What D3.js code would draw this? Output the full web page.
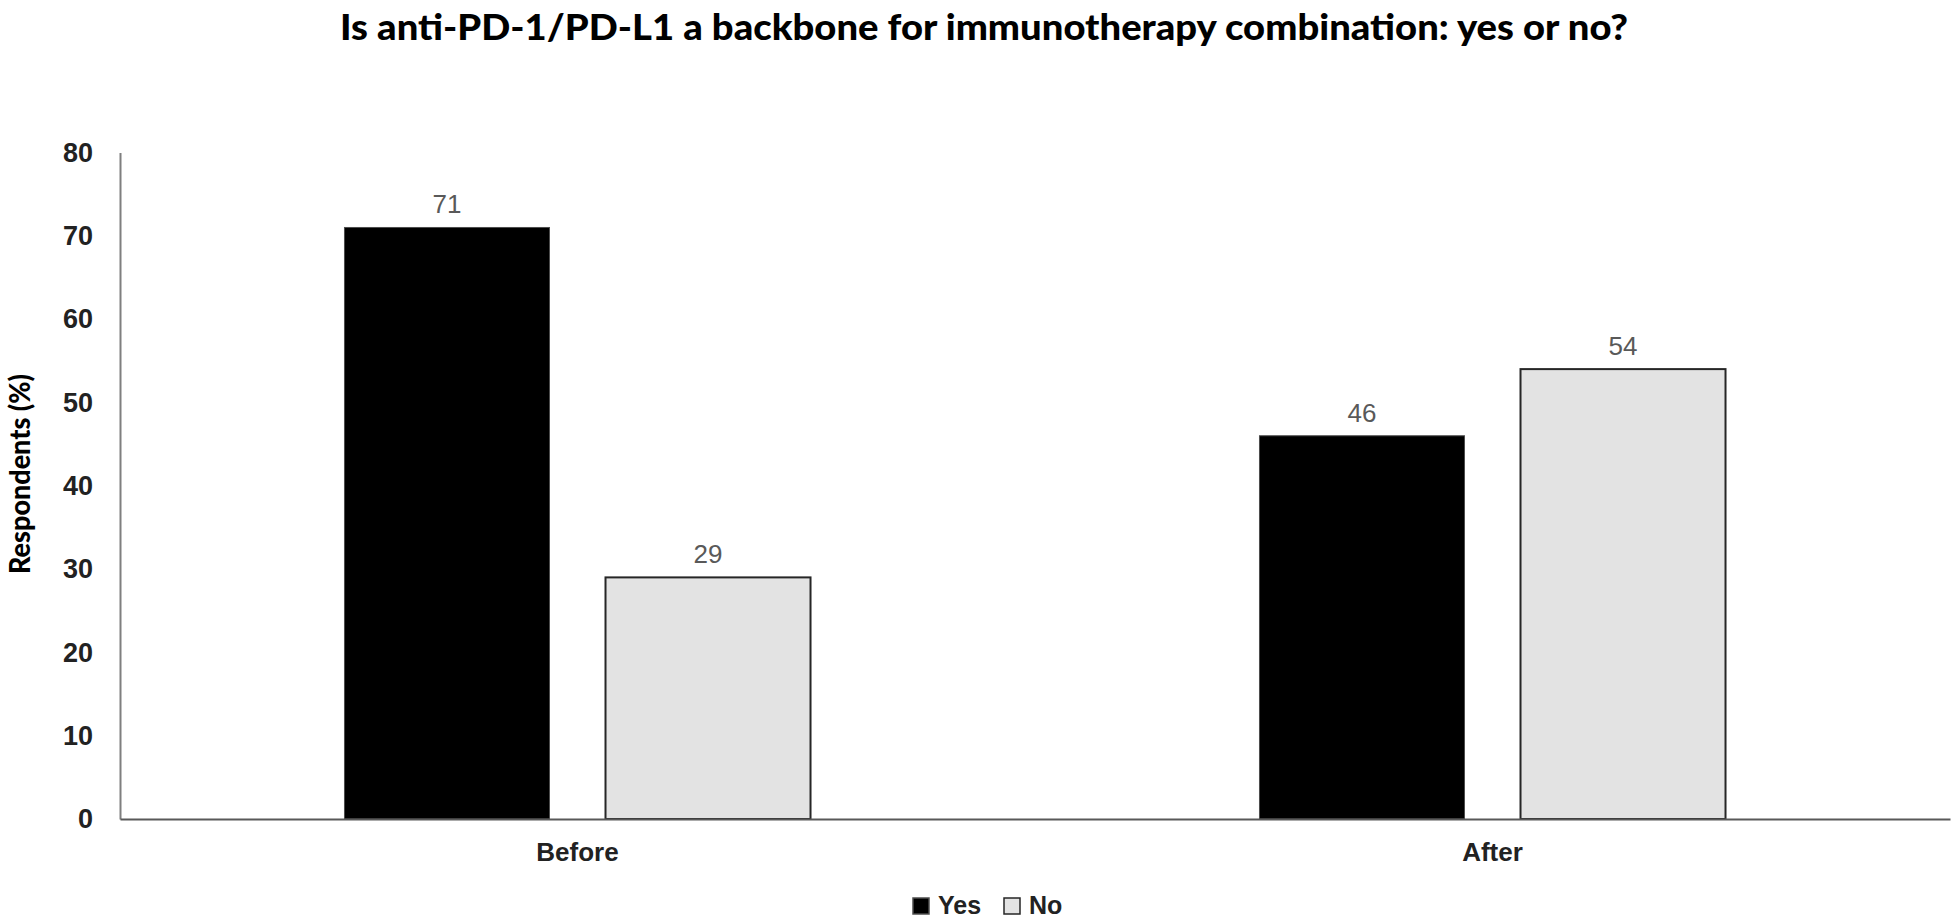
<!DOCTYPE html>
<html>
<head>
<meta charset="utf-8">
<script src="https://cdn.jsdelivr.net/npm/d3@7"></script>
<style>
  body { margin: 0; background: #fff; }
</style>
</head>
<body>
<svg id="chart" width="1960" height="923"></svg>
<script>
// data
var categories = ["Before", "After"];
var seriesNames = ["Yes", "No"];
var yesValues = [71, 46];
var noValues = [29, 54];
var yTicks = [0, 10, 20, 30, 40, 50, 60, 70, 80];
var titleText = "Is anti-PD-1/PD-L1 a backbone for immunotherapy combination: yes or no?";
var yLabel = "Respondents (%)";

var fills = { Yes: "#000000", No: "#e3e3e3" };
var strokes = { Yes: "#4d4d4d", No: "#262626" };

var rows = categories.map(function(c, i) {
  return { cat: c, Yes: yesValues[i], No: noValues[i] };
});

var svg = d3.select("#chart");
var plotLeft = 120, plotRight = 1950, plotTop = 152.5, plotBottom = 819;

var x0 = d3.scaleBand().domain(categories).range([plotLeft, plotRight]).padding(0);
var x1 = d3.scaleBand().domain(seriesNames).range([0, x0.bandwidth()])
    .paddingInner(0.2146).paddingOuter(0.86);
var y = d3.scaleLinear().domain([0, 80]).range([plotBottom, plotTop]);

// title
svg.append("text")
    .attr("x", 984).attr("y", 40)
    .attr("text-anchor", "middle")
    .attr("textLength", 1288).attr("lengthAdjust", "spacingAndGlyphs")
    .style("font-family", "Lato, 'Open Sans', sans-serif")
    .style("font-weight", "900")
    .style("font-size", "36px")
    .style("fill", "#000")
    .text(titleText);

// bars
var groups = svg.selectAll("g.grp")
    .data(rows)
    .enter().append("g")
    .attr("class", "grp")
    .attr("transform", function(d) { return "translate(" + x0(d.cat) + ",0)"; });

groups.selectAll("rect")
    .data(function(d) { return seriesNames.map(function(s) { return { s: s, v: d[s] }; }); })
    .enter().append("rect")
    .attr("x", function(d) { return x1(d.s); })
    .attr("y", function(d) { return y(d.v); })
    .attr("width", x1.bandwidth())
    .attr("height", function(d) { return y(0) - y(d.v); })
    .style("fill", function(d) { return fills[d.s]; })
    .style("stroke", function(d) { return strokes[d.s]; })
    .style("stroke-width", function(d) { return d.s == "No" ? 2 : 1; });

groups.selectAll("text.val")
    .data(function(d) { return seriesNames.map(function(s) { return { s: s, v: d[s] }; }); })
    .enter().append("text")
    .attr("class", "val")
    .attr("x", function(d) { return x1(d.s) + x1.bandwidth() / 2; })
    .attr("y", function(d) { return y(d.v) - 14; })
    .attr("text-anchor", "middle")
    .style("font-family", "'Liberation Sans', Arial, sans-serif")
    .style("font-size", "26px")
    .style("fill", "#595959")
    .text(function(d) { return d.v; });

// y axis
var yAxis = svg.append("g")
    .attr("transform", "translate(" + plotLeft + ",0)")
    .call(d3.axisLeft(y).tickValues(yTicks).tickSize(0).tickSizeOuter(0).tickPadding(27));
yAxis.select(".domain").style("stroke", "#7f7f7f").style("stroke-width", 2);
yAxis.selectAll("text")
    .style("font-family", "'Liberation Sans', Arial, sans-serif")
    .style("font-weight", "bold")
    .style("font-size", "27px")
    .style("fill", "#222");

// x axis
var xAxis = svg.append("g")
    .attr("transform", "translate(0," + plotBottom + ")")
    .call(d3.axisBottom(x0).tickSize(0).tickSizeOuter(0).tickPadding(24));
xAxis.select(".domain").style("stroke", "#595959").style("stroke-width", 2);
xAxis.selectAll("text")
    .style("font-family", "'Liberation Sans', Arial, sans-serif")
    .style("font-weight", "bold")
    .style("font-size", "26px")
    .style("fill", "#222");

// y label
svg.append("text")
    .attr("transform", "translate(30,474) rotate(-90)")
    .attr("text-anchor", "middle")
    .attr("textLength", 200).attr("lengthAdjust", "spacingAndGlyphs")
    .style("font-family", "Lato, 'Open Sans', sans-serif")
    .style("font-weight", "900")
    .style("font-size", "28px")
    .style("fill", "#000")
    .text(yLabel);

// legend
var legendX = [913, 1004];
var legend = svg.selectAll("g.leg")
    .data(seriesNames)
    .enter().append("g")
    .attr("class", "leg")
    .attr("transform", function(d, i) { return "translate(" + legendX[i] + ",898)"; });
legend.append("rect")
    .attr("width", 16).attr("height", 16)
    .style("fill", function(d) { return fills[d]; })
    .style("stroke", function(d) { return strokes[d]; })
    .style("stroke-width", 1.5);
legend.append("text")
    .attr("x", 25).attr("y", 16)
    .style("font-family", "'Liberation Sans', Arial, sans-serif")
    .style("font-weight", "bold")
    .style("font-size", "25px")
    .style("fill", "#222")
    .text(function(d) { return d; });
</script>
</body>
</html>
